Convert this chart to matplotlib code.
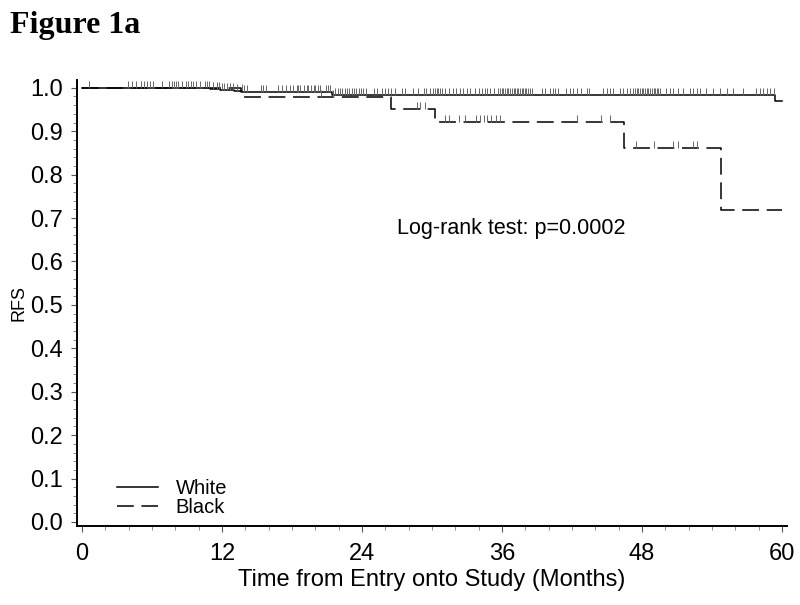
import numpy as np
import matplotlib.pyplot as plt
from matplotlib.ticker import MultipleLocator

# Kaplan-Meier steps (months, RFS)
white_t = [0, 11.0, 11.8, 13.0, 13.7, 21.4, 59.4, 60]
white_s = [1.0, 0.9977, 0.9954, 0.993, 0.990, 0.984, 0.969, 0.969]
black_t = [0, 13.6, 26.5, 30.3, 46.5, 54.8, 60]
black_s = [1.0, 0.979, 0.951, 0.922, 0.861, 0.719, 0.719]

# censoring times
white_cens = [0.63, 3.9, 4.26, 4.63, 5.03, 5.31, 5.6, 5.83, 6.11, 6.83, 7.49, 7.69, 7.89,
              8.06, 8.26, 8.54, 8.91, 9.11, 9.31, 9.54, 9.77, 10.11, 10.54, 10.7, 10.91,
              11.2, 11.54, 11.75, 11.97, 12.2, 12.4, 12.69, 12.97, 13.3, 13.69, 13.9, 14.11,
              15.3, 15.55, 15.8, 16.8, 17.1, 17.5, 17.8, 18.1, 18.4, 18.55, 18.7, 19.0,
              19.3, 19.4, 19.6, 19.85, 20.0, 20.25, 20.4, 20.9, 21.1, 21.25, 21.7, 21.9,
              22.1, 22.3, 22.5, 22.7, 22.9, 23.1, 23.3, 23.5, 23.7, 23.9, 24.1, 24.3,
              25.0, 25.25, 25.7, 26.0, 26.2, 26.5, 26.8, 27.4, 27.7, 28.4, 28.8, 29.3,
              29.5, 29.8, 30.1, 30.26, 30.4, 30.55, 30.7, 30.83, 31.1, 31.5, 31.8, 32.1,
              32.4, 32.7, 33.0, 33.3, 33.7, 34.0, 34.3, 34.55, 34.7, 35.0, 35.3, 35.7,
              35.83, 36.0, 36.1, 36.26, 36.4, 36.55, 36.7, 36.83, 37.0, 37.1, 37.26, 37.4,
              37.55, 37.7, 37.83, 38.0, 38.1, 38.26, 38.4, 38.55, 39.4, 39.7, 40.1, 40.4,
              40.55, 40.8, 41.5, 41.8, 42.1, 42.4, 42.8, 43.3, 43.5, 44.7, 45.0, 45.3,
              45.5, 46.1, 46.4, 46.7, 47.0, 47.26, 47.4, 47.55, 47.7, 47.83, 48.0, 48.1,
              48.26, 48.4, 48.55, 48.7, 48.83, 49.0, 49.1, 49.26, 49.4, 49.55, 50.1, 50.4,
              50.7, 51.1, 51.5, 52.1, 52.4, 52.7, 53.0, 53.5, 54.1, 54.7, 55.3, 55.8,
              56.7, 57.8, 58.1, 58.4, 58.7, 59.0, 59.3]
black_cens = [20.5, 21.5, 28.7, 29.0, 29.4, 31.1, 31.5, 32.3, 32.8, 33.8, 34.1, 34.5,
              34.7, 35.1, 35.5, 35.8, 42.4, 44.5, 45.3, 47.5, 49.0, 50.7, 51.1, 52.4, 52.7]


def surv_at(t, times, surv):
    idx = np.searchsorted(times, t, side='right') - 1
    return np.array(surv)[idx]


plt.rcParams['font.family'] = ['Liberation Sans', 'DejaVu Sans']

fig = plt.figure(figsize=(8, 6.05), dpi=100)
ax = fig.add_axes([0.09625, 0.1306, 0.8875, 0.7372])

lw_w, = ax.step(white_t, white_s, where='post', color='black', lw=1.1, label='White')
lw_b, = ax.step(black_t, black_s, where='post', color='black', lw=1.1,
                linestyle=(0, (11, 5)), label='Black')

# censor marks
ws = surv_at(white_cens, white_t, white_s)
ax.vlines(white_cens, ws, ws + 0.016, color='#666666', lw=0.7)
bs = surv_at(black_cens, black_t, black_s)
ax.vlines(black_cens, bs, bs + 0.016, color='#666666', lw=0.7)

ax.set_xlim(-0.43, 60.43)
ax.set_ylim(-0.0092, 1.018)
ax.xaxis.set_major_locator(MultipleLocator(12))
ax.xaxis.set_minor_locator(MultipleLocator(2))
ax.set_yticks(np.arange(0, 1.01, 0.1))
ax.set_yticklabels(['%.1f' % v for v in np.arange(0, 1.01, 0.1)])
ax.yaxis.set_minor_locator(MultipleLocator(0.02))

for s in ['top', 'right']:
    ax.spines[s].set_visible(False)
for s in ['left', 'bottom']:
    ax.spines[s].set_linewidth(1.4)

ax.tick_params(axis='both', which='major', labelsize=17, length=4, width=0.8,
               color='#555555')
ax.tick_params(axis='both', which='minor', length=3, width=0.6, color='#777777')
ax.tick_params(axis='x', which='major', pad=8)
ax.tick_params(axis='y', which='major', pad=6)

ax.set_xlabel('Time from Entry onto Study (Months)', fontsize=17, labelpad=3)
ax.set_ylabel('RFS', fontsize=13, labelpad=2)

ax.text(27.0, 0.675, 'Log-rank test: p=0.0002', fontsize=15.5, va='center', ha='left')

ax.legend(handles=[lw_w, lw_b], loc='lower left', bbox_to_anchor=(0.0435, 0.0),
          frameon=False, fontsize=14.5, handlelength=2.04, handletextpad=0.88,
          labelspacing=0.0, borderaxespad=0.05)

fig.text(0.0125, 1 - 33 / 605, 'Figure 1a', fontsize=23, fontweight='bold',
         family=['Liberation Serif', 'DejaVu Serif'], va='baseline', ha='left')

fig.savefig('out.png', dpi=100)
